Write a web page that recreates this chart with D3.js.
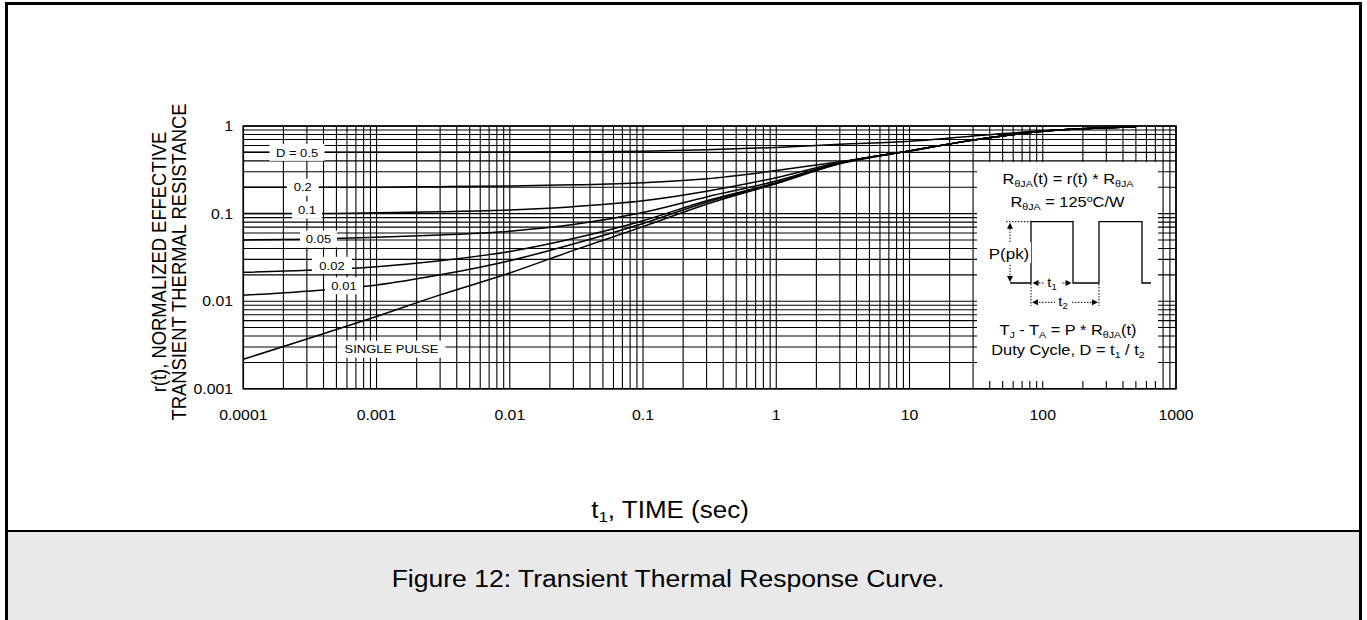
<!DOCTYPE html>
<html>
<head>
<meta charset="utf-8">
<script src="https://cdn.jsdelivr.net/npm/d3@7/dist/d3.min.js"></script>
<style>
  body { margin: 0; background: #fff; }
  text { font-family: "Liberation Sans", Arial, sans-serif; fill: #000; }
</style>
</head>
<body>
<svg id="chart" width="1367" height="620"></svg>
<script>
// values (r(t) per duty cycle)
const times = [0.0001, 0.0003, 0.001, 0.003, 0.01, 0.03, 0.1, 0.3, 1, 3, 10, 30, 100, 500];
const d050 = [0.5, 0.5, 0.5, 0.503, 0.505, 0.508, 0.515, 0.535, 0.57, 0.62, 0.67, 0.77, 0.88, 0.98];
const d020 = [0.2, 0.2, 0.2, 0.203, 0.207, 0.213, 0.225, 0.25, 0.31, 0.39, 0.52, 0.69, 0.87, 0.98];
const d010 = [0.1, 0.1, 0.102, 0.105, 0.11, 0.12, 0.14, 0.18, 0.257, 0.385, 0.52, 0.69, 0.87, 0.98];
const d005 = [0.05, 0.051, 0.0536, 0.057, 0.063, 0.075, 0.103, 0.155, 0.235, 0.38, 0.52, 0.69, 0.87, 0.98];
const d002 = [0.0214, 0.0225, 0.0248, 0.029, 0.037, 0.052, 0.083, 0.14, 0.225, 0.378, 0.52, 0.69, 0.87, 0.98];
const d001 = [0.0117, 0.013, 0.0153, 0.02, 0.029, 0.045, 0.077, 0.135, 0.222, 0.375, 0.52, 0.69, 0.87, 0.98];
const single = [0.00217, 0.0037, 0.0067, 0.0118, 0.021, 0.038, 0.071, 0.128, 0.22, 0.37, 0.52, 0.69, 0.87, 0.98];

const seriesNames = ["D = 0.5", "0.2", "0.1", "0.05", "0.02", "0.01", "SINGLE PULSE"];
const seriesValues = [d050, d020, d010, d005, d002, d001, single];

const xTicks = [0.0001, 0.001, 0.01, 0.1, 1, 10, 100, 1000];
const xTickLabels = ["0.0001", "0.001", "0.01", "0.1", "1", "10", "100", "1000"];
const yTicks = [0.001, 0.01, 0.1, 1];
const yTickLabels = ["0.001", "0.01", "0.1", "1"];

const SX = 1.13; // text in the reference is a bit wide
const plot = { left: 243.3, right: 1176, top: 126, bottom: 388.8 };

const svg = d3.select("#chart");

// page frame + caption band
svg.append("rect").attr("x", 8).attr("y", 532).attr("width", 1351).attr("height", 90).attr("fill", "#e9e9e9");
svg.append("line").attr("x1", 5).attr("x2", 1362).attr("y1", 531).attr("y2", 531)
    .attr("stroke", "#000").attr("stroke-width", 2);
svg.append("rect").attr("x", 6.5).attr("y", 3.5).attr("width", 1354).attr("height", 640)
    .attr("fill", "none").attr("stroke", "#000").attr("stroke-width", 3);

const x = d3.scaleLog().domain([0.0001, 1000]).range([plot.left, plot.right]);
const y = d3.scaleLog().domain([0.001, 1]).range([plot.bottom, plot.top]);

const txt = (g, px, py, str, size, anchor) => g.append("text")
    .attr("transform", `translate(${px},${py}) scale(${SX},1)`)
    .attr("font-size", size)
    .attr("text-anchor", anchor || "middle")
    .text(str);

// grid
const gridG = svg.append("g").attr("class", "grid");
gridG.selectAll("line.v").data(x.ticks()).enter().append("line")
    .attr("x1", d => x(d)).attr("x2", d => x(d))
    .attr("y1", plot.top).attr("y2", plot.bottom)
    .attr("stroke", "#000").attr("stroke-width", 1.1);
gridG.selectAll("line.h").data(y.ticks()).enter().append("line")
    .attr("y1", d => y(d)).attr("y2", d => y(d))
    .attr("x1", plot.left).attr("x2", plot.right)
    .attr("stroke", "#000").attr("stroke-width", 1.1);

// curves
const line = d3.line()
    .x(d => x(d[0]))
    .y(d => y(d[1]))
    .curve(d3.curveMonotoneX);

svg.append("g").attr("class", "curves").selectAll("path")
    .data(seriesValues).enter().append("path")
    .attr("d", vals => line(vals.map((v, i) => [times[i], v])))
    .attr("fill", "none").attr("stroke", "#000").attr("stroke-width", 1.5);

// curve labels
const labels = [
    { name: seriesNames[0], cx: 297, v: d050[0], dy: 0, w: 55 },
    { name: seriesNames[1], cx: 302.7, v: d020[0], dy: 0, w: 32 },
    { name: seriesNames[2], cx: 307, v: d010[0], dy: -3.5, w: 30 },
    { name: seriesNames[3], cx: 318.5, v: d005[0], dy: -1, w: 37 },
    { name: seriesNames[4], cx: 332, v: 0.025, dy: -1, w: 40 },
    { name: seriesNames[5], cx: 344, v: 0.015, dy: 0, w: 38 },
    { name: seriesNames[6], cx: 391.5, v: 0.00283, dy: 0, w: 108 }
];
const labelG = svg.append("g").attr("class", "labels");
labels.forEach(l => {
    const cy = y(l.v) + l.dy;
    labelG.append("rect").attr("x", l.cx - l.w / 2).attr("y", cy - 8.5)
        .attr("width", l.w).attr("height", 17).attr("fill", "#fff");
    txt(labelG, l.cx, cy + 4.2, l.name, 11.5);
});

// inset box
const inset = svg.append("g").attr("class", "inset");
inset.append("rect").attr("x", 977).attr("y", 162).attr("width", 181).attr("height", 219).attr("fill", "#fff");

const rich = (g, px, py, parts, size) => {
    const t = g.append("text")
        .attr("transform", `translate(${px},${py}) scale(${SX},1)`)
        .attr("font-size", size).attr("text-anchor", "middle");
    let off = 0;
    parts.forEach(([s, k]) => {
        const target = k === "sub" ? 3 : k === "sup" ? -5 : 0;
        const ts = t.append("tspan").text(s).attr("dy", target - off);
        if (k) ts.attr("font-size", size * 0.65);
        off = target;
    });
    return t;
};

rich(inset, 1068, 184, [["R"], ["θJA", "sub"], ["(t) = r(t) * R"], ["θJA", "sub"]], 14.5);
rich(inset, 1067.5, 207, [["R"], ["θJA", "sub"], [" = 125"], ["o", "sup"], ["C/W"]], 14.5);
rich(inset, 1068, 335, [["T"], ["J", "sub"], [" - T"], ["A", "sub"], [" = P * R"], ["θJA", "sub"], ["(t)"]], 14.5);
rich(inset, 1068, 355, [["Duty Cycle, D = t"], ["1", "sub"], [" / t"], ["2", "sub"]], 14.5);

// pulse train
const pTop = 221.7, pBase = 283;
inset.append("path")
    .attr("d", `M1010,${pBase}H1031V${pTop}H1073V${pBase}H1099V${pTop}H1142V${pBase}H1151`)
    .attr("fill", "none").attr("stroke", "#000").attr("stroke-width", 1.3);

const dotted = (x1, y1, x2, y2) => inset.append("line")
    .attr("x1", x1).attr("y1", y1).attr("x2", x2).attr("y2", y2)
    .attr("stroke", "#000").attr("stroke-width", 1).attr("stroke-dasharray", "1.5,1.5");
const arrow = (ax, ay, dir) => {
    const L = 6, W = 3;
    let p;
    if (dir === "up") p = `M${ax},${ay}L${ax - W},${ay + L}L${ax + W},${ay + L}Z`;
    if (dir === "down") p = `M${ax},${ay}L${ax - W},${ay - L}L${ax + W},${ay - L}Z`;
    if (dir === "left") p = `M${ax},${ay}L${ax + L},${ay - W}L${ax + L},${ay + W}Z`;
    if (dir === "right") p = `M${ax},${ay}L${ax - L},${ay - W}L${ax - L},${ay + W}Z`;
    inset.append("path").attr("d", p).attr("fill", "#000");
};

// P(pk)
dotted(1006, pTop, 1031, pTop);
dotted(1010, pTop + 4, 1010, pBase - 4);
arrow(1010, pTop + 1, "up");
arrow(1010, pBase - 1, "down");
inset.append("rect").attr("x", 987).attr("y", 242).attr("width", 44).attr("height", 21).attr("fill", "#fff");
txt(inset, 1009, 258.5, "P(pk)", 15);

// t1
dotted(1036, pBase, 1068, pBase);
arrow(1032.5, pBase, "left");
arrow(1071.5, pBase, "right");
inset.append("rect").attr("x", 1044).attr("y", 275).attr("width", 17).attr("height", 16).attr("fill", "#fff");
rich(inset, 1052, 287, [["t"], ["1", "sub"]], 13);

// t2
const t2y = 302.3;
dotted(1031, pBase + 1, 1031, 306);
dotted(1099, pBase + 1, 1099, 306);
dotted(1036, t2y, 1094, t2y);
arrow(1032, t2y, "left");
arrow(1098, t2y, "right");
inset.append("rect").attr("x", 1055).attr("y", 294).attr("width", 17).attr("height", 17).attr("fill", "#fff");
rich(inset, 1063, 306, [["t"], ["2", "sub"]], 13);

// plot frame
svg.append("rect")
    .attr("x", plot.left).attr("y", plot.top)
    .attr("width", plot.right - plot.left).attr("height", plot.bottom - plot.top)
    .attr("fill", "none").attr("stroke", "#000").attr("stroke-width", 1.6);

// tick labels
const tickG = svg.append("g").attr("class", "ticks");
xTicks.forEach((t, i) => txt(tickG, x(t), 420, xTickLabels[i], 14));
yTicks.forEach((t, i) => txt(tickG, 233, y(t) + 5, yTickLabels[i], 14, "end"));

// axis titles
const xt = svg.append("text")
    .attr("transform", `translate(670,517.5) scale(${SX},1)`)
    .attr("font-size", 23).attr("text-anchor", "middle");
xt.append("tspan").text("t");
xt.append("tspan").text("1").attr("font-size", 15).attr("dy", 4);
xt.append("tspan").text(", TIME (sec)").attr("dy", -4);

[["r(t), NORMALIZED EFFECTIVE", 166], ["TRANSIENT THERMAL RESISTANCE", 186]].forEach(([s, bx]) => {
    svg.append("text")
        .attr("transform", `translate(${bx},262) scale(${SX},1) rotate(-90)`)
        .attr("font-size", 18.4).attr("text-anchor", "middle")
        .text(s);
});

// caption
txt(svg, 668, 587, "Figure 12: Transient Thermal Response Curve.", 23.5);
</script>
</body>
</html>
